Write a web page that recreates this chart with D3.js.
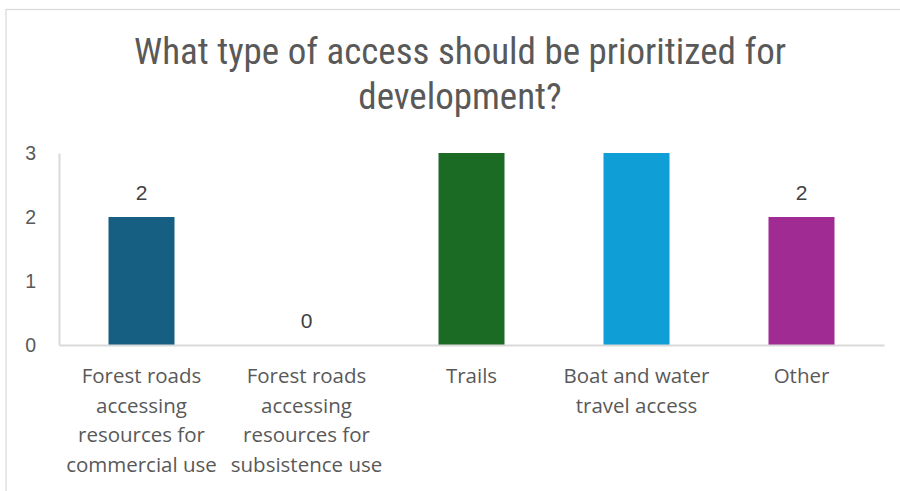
<!DOCTYPE html>
<html>
<head>
<meta charset="utf-8">
<script src="https://cdn.jsdelivr.net/npm/d3@7"></script>
<style>
  html, body { margin: 0; padding: 0; background: #fff; }
  svg { display: block; }
</style>
</head>
<body>
<svg id="chart" width="900" height="491"></svg>
<script>
// Survey responses: number of votes per access type
const categories = [
  ["Forest roads", "accessing", "resources for", "commercial use"],
  ["Forest roads", "accessing", "resources for", "subsistence use"],
  ["Trails"],
  ["Boat and water", "travel access"],
  ["Other"]
];
const values = [2, 0, 3, 3, 2];
const colors = ["#175f82", "#145f82", "#1b6b25", "#0f9ed5", "#a02b93"];
const yTicks = [0, 1, 2, 3];
const titleLines = ["What type of access should be prioritized for", "development?"];

const svg = d3.select("#chart");
const W = 900, H = 491;
const plot = { left: 59, right: 884, top: 153, bottom: 345 };

// Outer chart frame
svg.append("rect")
  .attr("x", 6).attr("y", 9.5)
  .attr("width", W + 10).attr("height", H + 10)
  .attr("fill", "#fff")
  .attr("stroke", "#d9d9d9").attr("stroke-width", 1.2);

// Title
const title = svg.append("text")
  .attr("text-anchor", "middle")
  .attr("fill", "#595959")
  .style("font-family", "'Liberation Sans Narrow', 'Roboto Condensed', 'Liberation Sans', sans-serif")
  .style("font-size", "37px");
titleLines.forEach((t, i) => {
  title.append("tspan")
    .attr("x", 460)
    .attr("y", 64 + i * 45)
    .text(t);
});

const keys = categories.map((c, i) => i);
const x = d3.scaleBand()
  .domain(keys)
  .range([plot.left, plot.right])
  .paddingInner(0.6)
  .paddingOuter(0.3);

const y = d3.scaleLinear()
  .domain([0, 3])
  .range([plot.bottom, plot.top]);

// Y axis labels
const yAxis = svg.append("g")
  .attr("transform", `translate(${plot.left},0)`)
  .call(d3.axisLeft(y).tickValues(yTicks).tickSize(0).tickPadding(23).tickFormat(d3.format("d")));
yAxis.select(".domain").attr("stroke", "#d9d9d9").attr("stroke-width", 2);
yAxis.selectAll("text")
  .attr("fill", "#595959")
  .style("font-family", "'Liberation Sans', Arial, sans-serif")
  .style("font-size", "19.5px");

// Bars
svg.append("g").selectAll("rect")
  .data(values)
  .join("rect")
  .attr("x", (d, i) => x(i))
  .attr("width", x.bandwidth())
  .attr("y", d => y(d))
  .attr("height", d => y(0) - y(d))
  .attr("fill", (d, i) => colors[i]);

// Category axis
const xAxis = svg.append("g")
  .attr("transform", `translate(0,${plot.bottom})`)
  .call(d3.axisBottom(x).tickSize(0).tickFormat(""));
xAxis.select(".domain").attr("stroke", "#d9d9d9").attr("stroke-width", 2);

// Wrapped category labels
const labels = svg.append("g")
  .attr("fill", "#595959")
  .attr("text-anchor", "middle")
  .style("font-family", "'Open Sans', 'Noto Sans', sans-serif")
  .style("font-size", "20.5px");
categories.forEach((lines, i) => {
  const t = labels.append("text");
  lines.forEach((ln, j) => {
    t.append("tspan")
      .attr("x", x(i) + x.bandwidth() / 2)
      .attr("y", 383 + j * 29.5)
      .text(ln);
  });
});

// Data labels (bars reaching the top of the scale carry none)
svg.append("g").selectAll("text")
  .data(values.map((v, i) => ({ v, i })).filter(d => d.v < 3))
  .join("text")
  .attr("x", d => x(d.i) + x.bandwidth() / 2)
  .attr("y", d => y(d.v) - 17)
  .attr("text-anchor", "middle")
  .attr("fill", "#404040")
  .style("font-family", "'Liberation Sans', Arial, sans-serif")
  .style("font-size", "21px")
  .text(d => d.v);
</script>
</body>
</html>
